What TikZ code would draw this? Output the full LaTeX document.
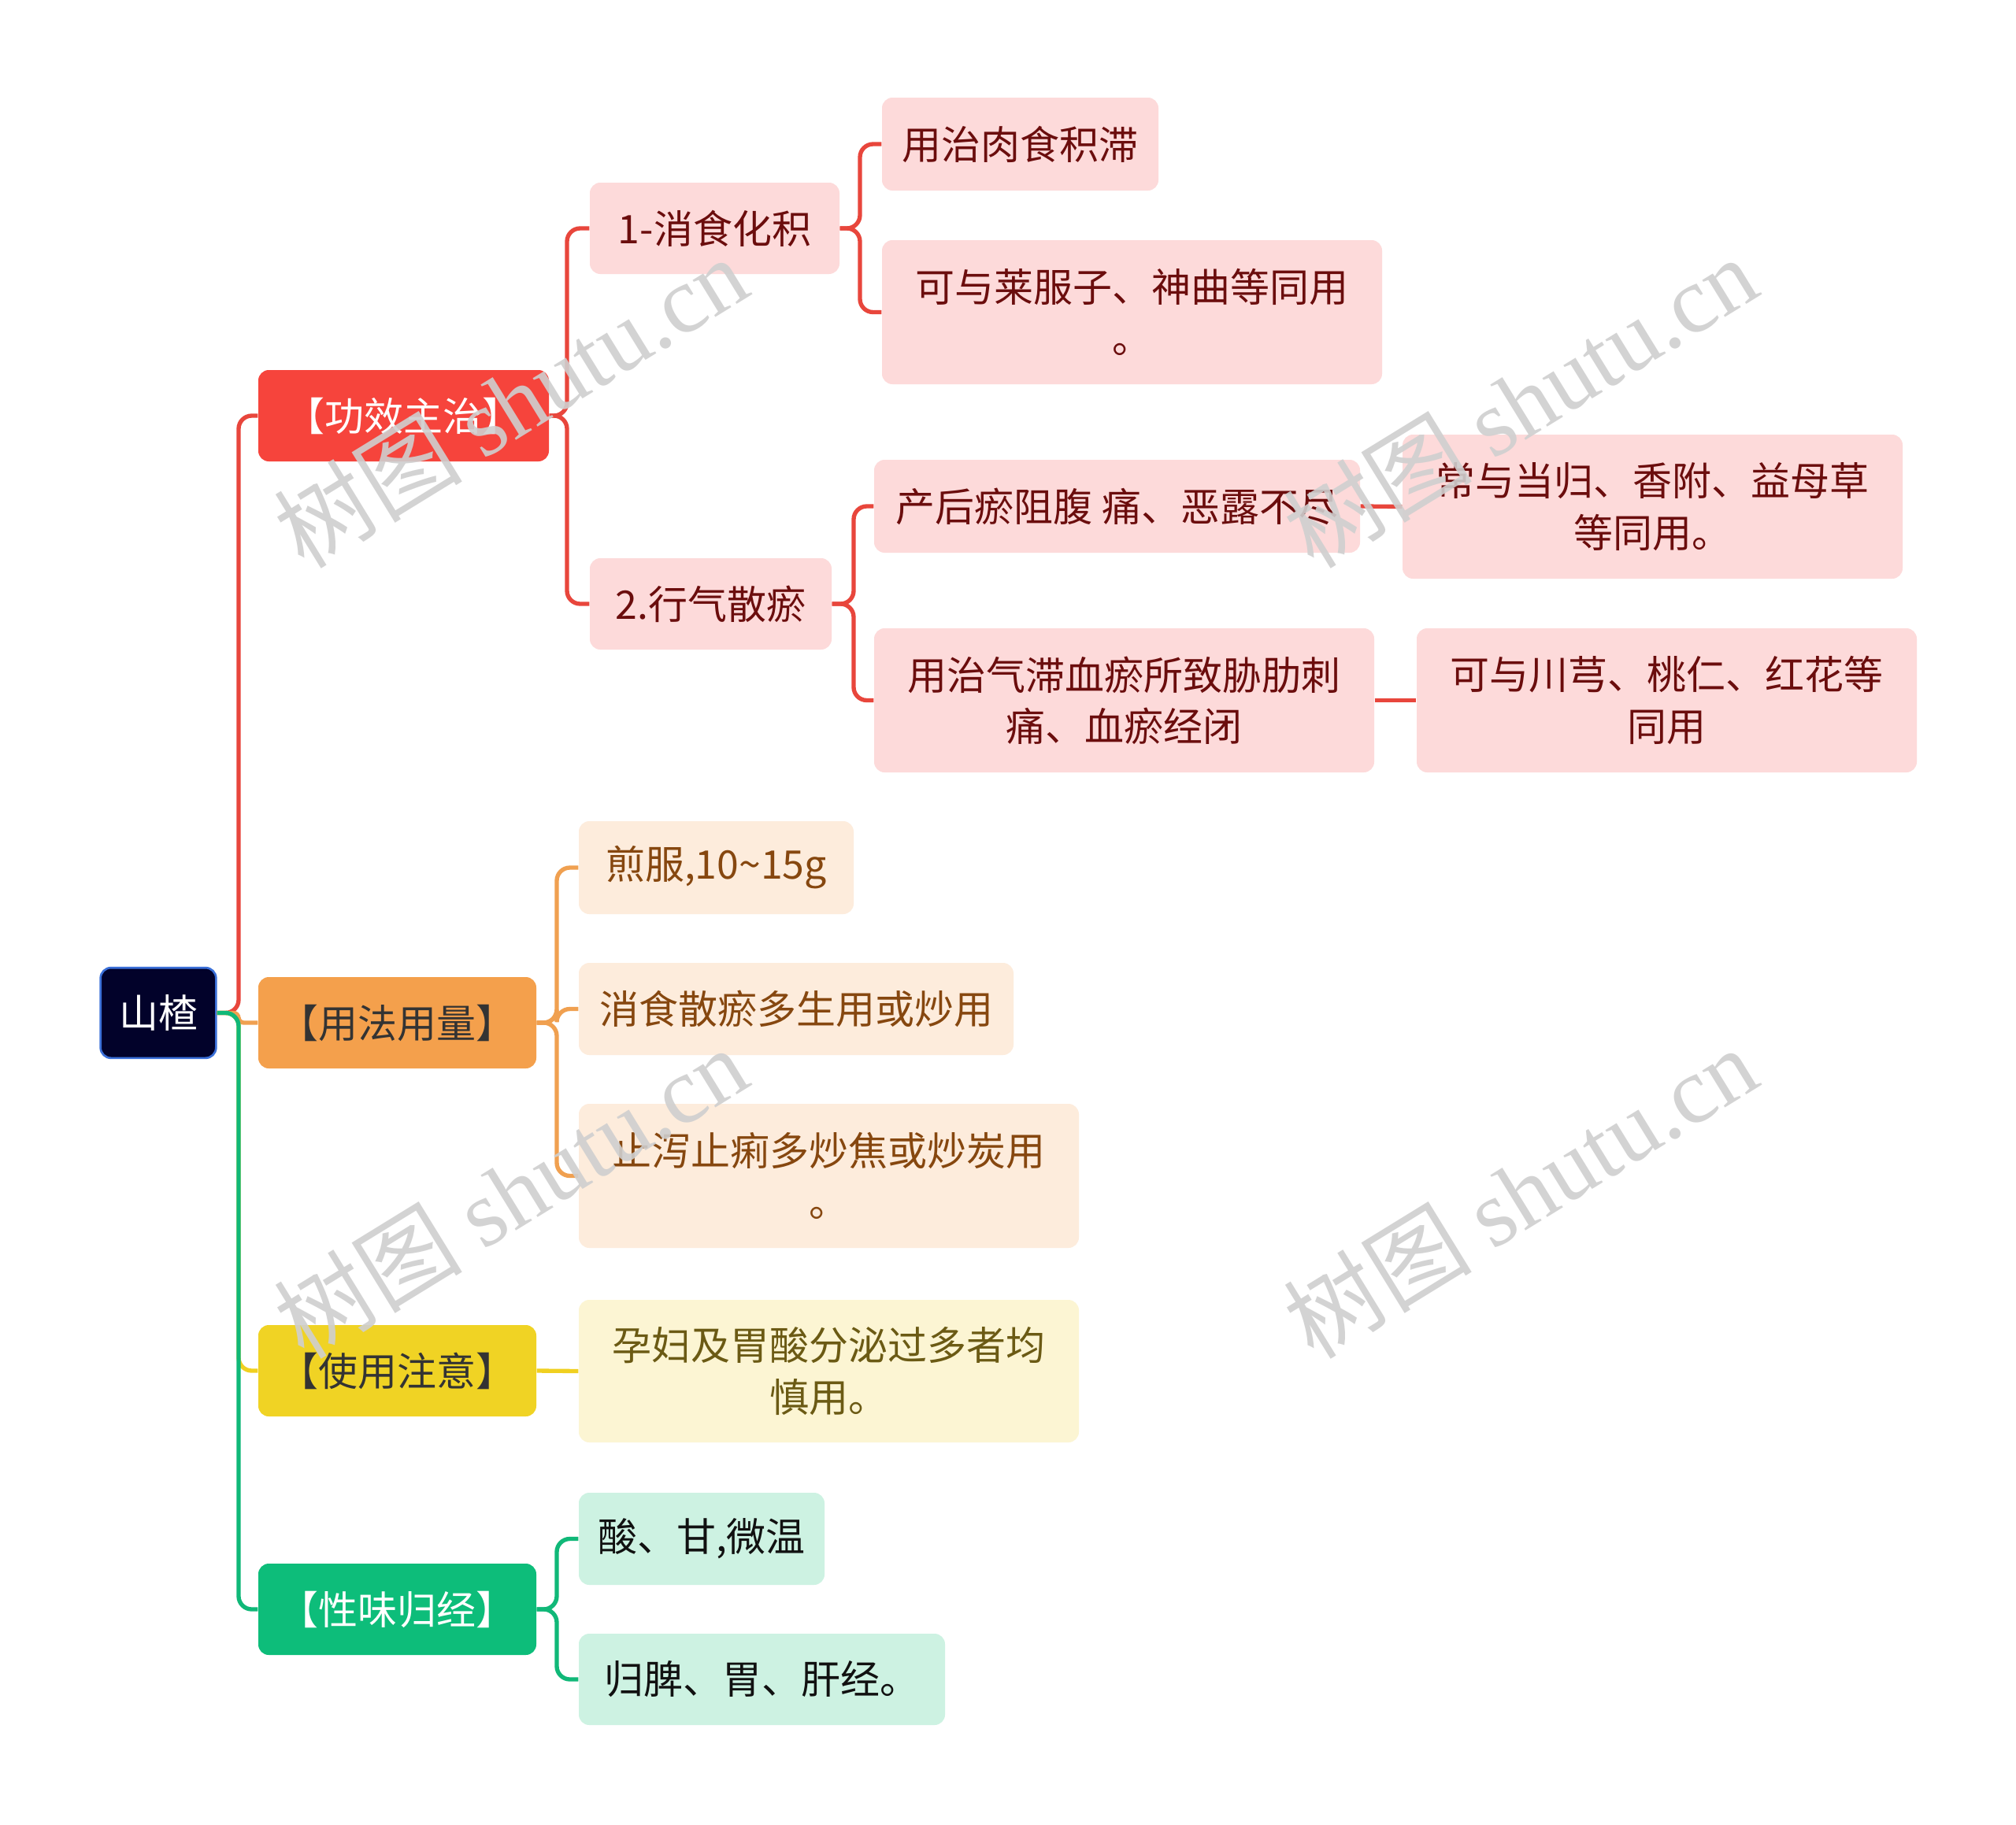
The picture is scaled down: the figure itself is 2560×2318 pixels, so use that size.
\documentclass[tikz,border=0pt]{standalone}
\usepackage{fontspec}
\setmainfont{Noto Sans CJK SC}
\newfontfamily\wmserif{Liberation Serif}
\definecolor{rootfill}{HTML}{02022A}
\definecolor{rootdraw}{HTML}{3A6FD8}
\definecolor{redL}{HTML}{F6443C}
\definecolor{orangeL}{HTML}{F4A04C}
\definecolor{yellowL}{HTML}{F0D324}
\definecolor{greenL}{HTML}{0DBD7A}
\definecolor{redC}{HTML}{FDDADA}
\definecolor{orangeC}{HTML}{FDECDC}
\definecolor{yellowC}{HTML}{FCF5D3}
\definecolor{greenC}{HTML}{CDF2E2}
\definecolor{redT}{HTML}{6B0D0D}
\definecolor{orangeT}{HTML}{86470F}
\definecolor{yellowT}{HTML}{6B5A14}
\definecolor{greenT}{HTML}{111111}
\definecolor{darkT}{HTML}{333333}
\definecolor{redW}{HTML}{E8463C}
\definecolor{orangeW}{HTML}{F0A050}
\definecolor{yellowW}{HTML}{F0D020}
\definecolor{greenW}{HTML}{10B878}
\definecolor{wm}{HTML}{CFCFCF}
\begin{document}
\begin{tikzpicture}[x=0.3pt,y=-0.3pt,
  box/.style={rounded corners=4pt, inner sep=0pt, align=center, font=\fontsize{15}{19.6}\selectfont},
  one/.style={box, minimum height=34.8pt},
  two/.style={box, minimum height=54.9pt},
  lred/.style={one, fill=redL, text=white},
  lorange/.style={one, fill=orangeL, text=darkT},
  lyellow/.style={one, fill=yellowL, text=darkT},
  lgreen/.style={one, fill=greenL, text=white},
  cred/.style={fill=redC, text=redT},
  corange/.style={fill=orangeC, text=orangeT},
  cyellow/.style={fill=yellowC, text=yellowT},
  cgreen/.style={fill=greenC, text=greenT},
  wire/.style={line width=1.6pt, rounded corners=5pt},
  wred/.style={wire, draw=redW},
  worange/.style={wire, draw=orangeW},
  wyellow/.style={wire, draw=yellowW},
  wgreen/.style={wire, draw=greenW},
  wmark/.style={rotate=31.6, text=wm, opacity=0.9, font=\fontsize{36}{40}\selectfont}
]
\useasboundingbox (0,0) rectangle (2560,2318);
\fill[white] (0,0) rectangle (2560,2318);

% root
\node[box, fill=rootfill, draw=rootdraw, line width=0.8pt, text=white, minimum width=44pt, minimum height=34.4pt] (root) at (201,1286.5) {山楂};

% level 1
\node[lred, minimum width=110.7pt] (A) at (512.5,528) {【功效主治】};
\node[lorange, minimum width=105.9pt] (B) at (504.5,1299) {【用法用量】};
\node[lyellow, minimum width=105.9pt] (C) at (504.5,1741) {【使用注意】};
\node[lgreen, minimum width=105.9pt] (D) at (504.5,2044) {【性味归经】};

% red subtree
\node[one, cred, minimum width=95.1pt] (A1) at (907.5,290) {1-消食化积};
\node[one, cred, minimum width=92.1pt] (A2) at (902.5,767) {2.行气散瘀};
\node[one, cred, minimum width=105.3pt, minimum height=35.4pt] (A11) at (1295.5,183) {用治肉食积滞};
\node[two, cred, minimum width=190.5pt] (A12) at (1437.5,396.5) {可与莱服子、神曲等同用\\。};
\node[one, cred, minimum width=185.1pt, minimum height=35.4pt] (A21) at (1418.5,643) {产后瘀阻腹 痛、恶露不尽};
\node[two, cred, minimum width=190.5pt] (A22) at (1427.5,889.5) {用治气滞血瘀所致胁肋刺\\痛、血瘀经闭};
\node[two, cred, minimum width=190.5pt] (A211) at (2098.5,643.5) {常与当归、香附、益母草\\等同用。};
\node[two, cred, minimum width=190.5pt] (A221) at (2116.5,889.5) {可与川芎、桃仁、红花等\\同用};

% orange subtree
\node[one, corange, minimum width=104.7pt, minimum height=35.4pt] (B1) at (909.5,1102) {煎服,10\textasciitilde15g};
\node[one, corange, minimum width=165.6pt, minimum height=35.1pt] (B2) at (1011,1281.5) {消食散瘀多生用或炒用};
\node[two, corange, minimum width=190.5pt] (B3) at (1052.5,1493.5) {止泻止痢多炒焦或炒炭用\\。};

% yellow subtree
\node[two, cyellow, minimum width=190.5pt, minimum height=54.3pt] (C1) at (1052.5,1741.5) {孕妇及胃酸分泌过多者均\\慎用。};

% green subtree
\node[one, cgreen, minimum width=93.6pt, minimum height=35.1pt] (D1) at (891,1954.5) {酸、甘,微温};
\node[one, cgreen, minimum width=139.5pt] (D2) at (967.5,2133) {归脾、胃、肝经。};

% trunk coordinates
\coordinate (t0) at (303,1286.5);
\coordinate (tA) at (720,528);
\coordinate (tA1) at (1092,290);
\coordinate (tA2) at (1084,767);
\coordinate (tB) at (707,1299);
\coordinate (tD) at (707,2044);

% connectors
\draw[wred] (root.east) -- (t0) |- (A.west);
\draw[wyellow] (root.east) -- (t0) |- (C.west);
\draw[worange, rounded corners=2pt] (root.east) -- (t0) |- (B.west);
\draw[wgreen] (root.east) -- (t0) |- (D.west);

\draw[wred] (A.east) -- (tA) |- (A1.west);
\draw[wred] (A.east) -- (tA) |- (A2.west);
\draw[wred] (A1.east) -- (tA1) |- (A11.west);
\draw[wred] (A1.east) -- (tA1) |- (A12.west);
\draw[wred] (A2.east) -- (tA2) |- (A21.west);
\draw[wred] (A2.east) -- (tA2) |- (A22.west);
\draw[wred] (A21.east) -- (A211.west);
\draw[wred] (A22.east) -- (A221.west);

\draw[worange] (B.east) -- (tB) |- (B1.west);
\draw[worange] (B.east) -- (tB) |- (B2.west);
\draw[worange] (B.east) -- (tB) |- (B3.west);

\draw[wyellow] (C.east) -- (C1.west);

\draw[wgreen] (D.east) -- (tD) |- (D1.west);
\draw[wgreen] (D.east) -- (tD) |- (D2.west);

% watermarks
\node[wmark] (wm1) at (648,510) {树图 {\wmserif shutu.cn}};
\node[wmark] (wm2) at (1930,510) {树图 {\wmserif shutu.cn}};
\node[wmark] (wm3) at (648,1514) {树图 {\wmserif shutu.cn}};
\node[wmark] (wm4) at (1930,1514) {树图 {\wmserif shutu.cn}};
\end{tikzpicture}
\end{document}
